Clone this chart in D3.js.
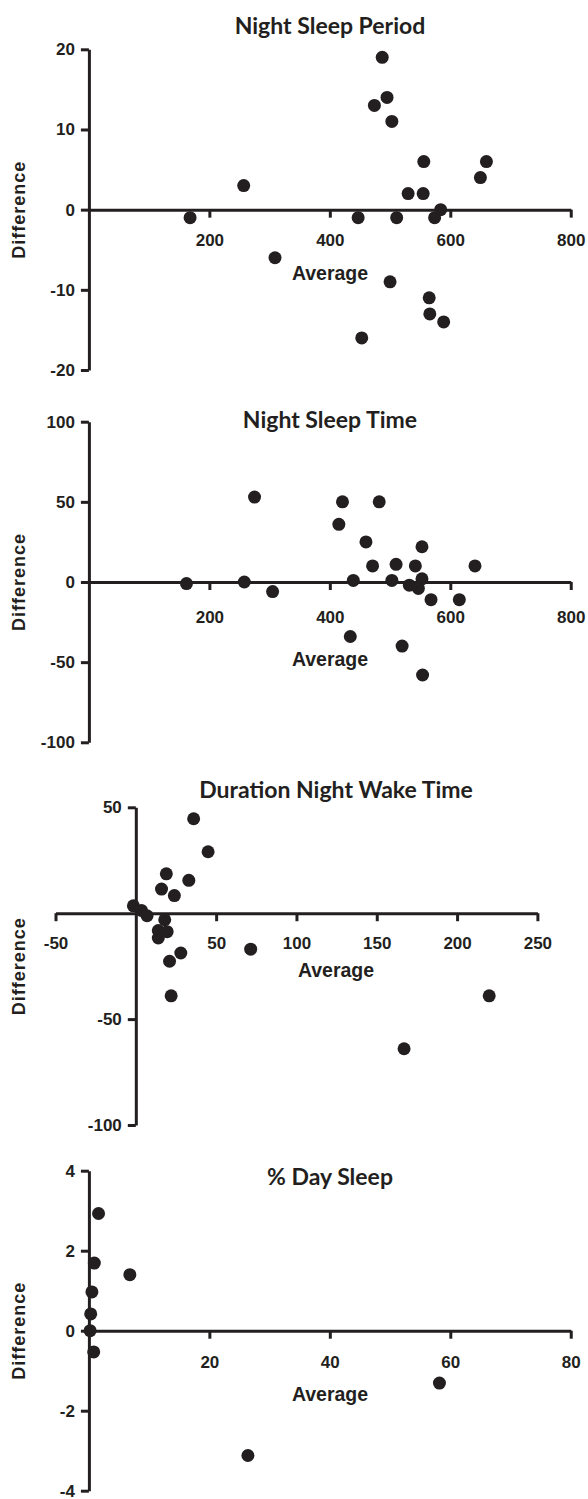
<!DOCTYPE html>
<html>
<head>
  <meta charset="UTF-8">
  <style>
body {
    margin: 0;
    padding: 0;
    background-color: white;
}

svg {
    display: block;
}

.title {
    font-family: Lato, "Open Sans", sans-serif;
    font-weight: bold;
    font-size: 23px;
    fill: #231f20;
}

.axis-label {
    font-family: "Liberation Sans", Arial, sans-serif;
    font-weight: bold;
    font-size: 19.5px;
    fill: #231f20;
}
  </style>
</head>
<body>
<svg></svg>

<script src="https://d3js.org/d3.v7.min.js"></script>

<script>

let width = 588, height = 1499;
const ink = "#231f20";

// Night Sleep Period
const periodAvg  = [487, 474, 495, 503, 556, 660, 650, 257, 530, 555, 168, 447, 511, 574, 584, 309, 500, 565, 566, 589, 453];
const periodDiff = [19, 13, 14, 11, 6, 6, 4, 3, 2, 2, -1, -1, -1, -1, 0, -6, -9, -11, -13, -14, -16];

// Night Sleep Time
const sleepAvg  = [275, 421, 482, 415, 460, 553, 510, 542, 471, 641, 162, 258, 439, 503, 553, 532, 547, 305, 568, 615, 434, 520, 554];
const sleepDiff = [53, 50, 50, 36, 25, 22, 11, 10, 10, 10, -1, 0, 1, 1, 2, -2, -4, -6, -11, -11, -34, -40, -58];

// Duration Night Wake Time
const wakeAvg  = [36, 45, 19, 33, 16, 24, -1.5, 3.5, 7, 18, 14, 19.5, 14, 28, 71.5, 21, 22, 220, 167];
const wakeDiff = [44.6, 29, 18.6, 15.5, 11.4, 8.3, 3.5, 1.3, -1.2, -3.1, -8.2, -8.7, -11.7, -18.8, -17, -22.7, -39, -39, -64];

// % Day Sleep
const daySleepAvg  = [1.6, 0.9, 6.8, 0.5, 0.3, 0.2, 0.8, 58.2, 26.4];
const daySleepDiff = [2.93, 1.69, 1.4, 0.97, 0.42, 0, -0.53, -1.31, -3.12];

// tick values
const periodXTicks = [200, 400, 600, 800], periodYTicks = [20, 10, 0, -10, -20];
const sleepXTicks = [200, 400, 600, 800], sleepYTicks = [100, 50, 0, -50, -100];
const wakeXTicks = [-50, 50, 100, 150, 200, 250], wakeYTicks = [50, -50, -100];
const daySleepXTicks = [20, 40, 60, 80], daySleepYTicks = [4, 2, 0, -2, -4];

const panels = [
  { title: "Night Sleep Period", avg: periodAvg, diff: periodDiff,
    xDomain: [0, 800], yDomain: [-20, 20], xTicks: periodXTicks, yTicks: periodYTicks,
    xRange: [88.9, 570.75], yRange: [370, 49.3],
    titleX: 330, titleY: 34, avgX: 330, avgY: 280, pad: 16 },
  { title: "Night Sleep Time", avg: sleepAvg, diff: sleepDiff,
    xDomain: [0, 800], yDomain: [-100, 100], xTicks: sleepXTicks, yTicks: sleepYTicks,
    xRange: [88.9, 570.75], yRange: [742.3, 421.7],
    titleX: 330, titleY: 428, avgX: 330, avgY: 666, pad: 21 },
  { title: "Duration Night Wake Time", avg: wakeAvg, diff: wakeDiff,
    xDomain: [-50, 250], yDomain: [-100, 50], xTicks: wakeXTicks, yTicks: wakeYTicks,
    xRange: [55.5, 537.4], yRange: [1125, 807.3],
    titleX: 336, titleY: 798, avgX: 336, avgY: 977, pad: 16 },
  { title: "% Day Sleep", avg: daySleepAvg, diff: daySleepDiff,
    xDomain: [0, 80], yDomain: [-4, 4], xTicks: daySleepXTicks, yTicks: daySleepYTicks,
    xRange: [88.9, 570.75], yRange: [1490.7, 1170.7],
    titleX: 330, titleY: 1185, avgX: 330, avgY: 1401, pad: 17 }
];

let svg = d3.select("svg")
    .attr("width", width)
    .attr("height", height);

// plain hyphen for negatives, like the original
const fmt = d => String(d);

panels.forEach(p => {
  let x = d3.scaleLinear().domain(p.xDomain).range(p.xRange);
  let y = d3.scaleLinear().domain(p.yDomain).range(p.yRange);
  let g = svg.append("g");

  // x axis through zero
  let xAxis = g.append("g")
    .attr("transform", `translate(0, ${y(0)})`)
    .call(d3.axisBottom(x).tickValues(p.xTicks).tickFormat(fmt).tickSize(8).tickSizeOuter(0).tickPadding(p.pad));

  // y axis through zero
  let yAxis = g.append("g")
    .attr("transform", `translate(${x(0)}, 0)`)
    .call(d3.axisLeft(y).tickValues(p.yTicks).tickFormat(fmt).tickSize(8).tickSizeOuter(0).tickPadding(6));

  [xAxis, yAxis].forEach(a => {
    a.attr("font-family", "Liberation Sans, Arial, sans-serif")
      .attr("font-size", 17)
      .attr("font-weight", "bold");
    a.select(".domain").attr("stroke", ink).attr("stroke-width", 3);
    a.selectAll(".tick line").attr("stroke", ink).attr("stroke-width", 3);
    a.selectAll(".tick text").attr("fill", ink);
  });

  // points
  g.append("g")
    .selectAll("circle")
    .data(p.avg.map((d, i) => [d, p.diff[i]]))
    .enter()
    .append("circle")
    .attr("cx", d => x(d[0]))
    .attr("cy", d => y(d[1]))
    .attr("r", 6.5)
    .attr("fill", ink);

  g.append("text")
    .attr("class", "title")
    .attr("x", p.titleX)
    .attr("y", p.titleY)
    .attr("text-anchor", "middle")
    .text(p.title);

  g.append("text")
    .attr("class", "axis-label")
    .attr("x", p.avgX)
    .attr("y", p.avgY)
    .attr("text-anchor", "middle")
    .text("Average");

  let midY = (p.yRange[0] + p.yRange[1]) / 2;
  g.append("text")
    .attr("class", "axis-label")
    .attr("transform", `translate(25, ${midY}) rotate(-90)`)
    .attr("text-anchor", "middle")
    .style("font-size", "18px")
    .style("letter-spacing", "1px")
    .text("Difference");
});

</script>
</body>
</html>
